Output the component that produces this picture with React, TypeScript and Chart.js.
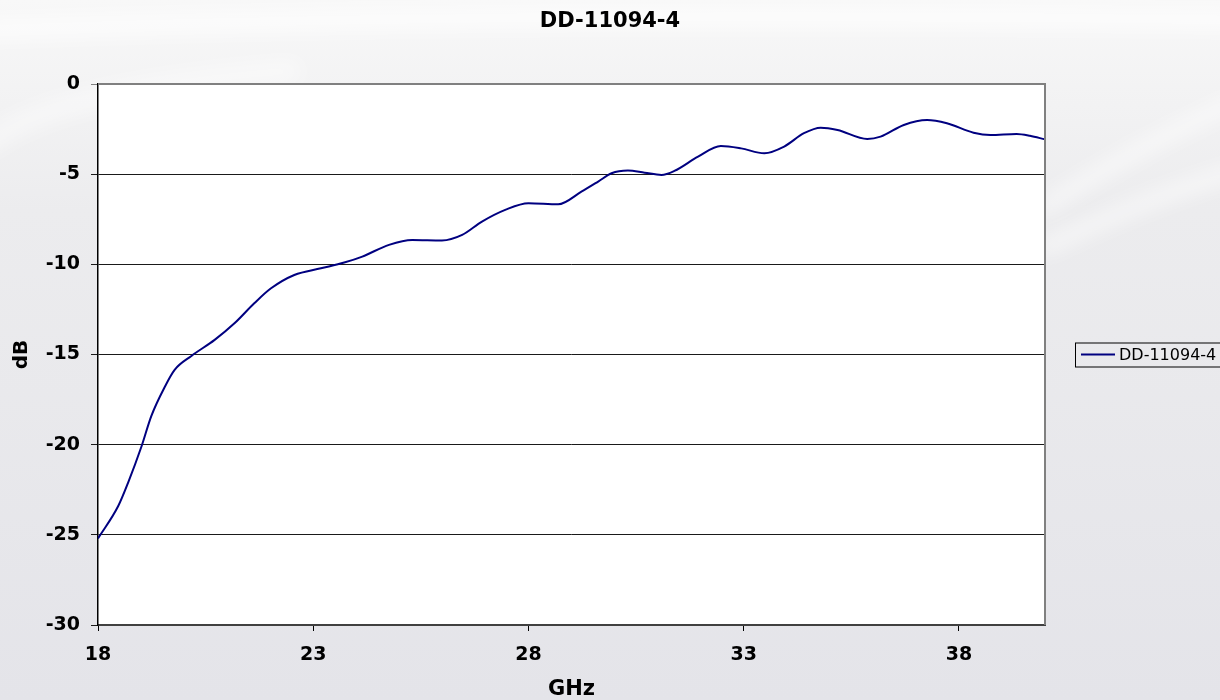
import React, { useEffect, useRef } from "react";
import { Chart, registerables } from "chart.js";

Chart.register(...registerables);

const chartTitle = "DD-11094-4";
const seriesName = "DD-11094-4";
const xAxisTitle = "GHz";
const yAxisTitle = "dB";

const freqGHz = [
  18.0, 18.47, 18.7, 19.01, 19.24, 19.55, 19.78, 20.17, 20.71, 21.17, 21.63, 22.02, 22.56,
  23.18, 23.72, 24.14, 24.76, 25.3, 25.99, 26.46, 26.92, 27.46, 28.0, 28.69, 29.23, 29.62,
  29.93, 30.31, 30.7, 31.09, 31.39, 31.94, 32.47, 32.94, 33.48, 33.94, 34.4, 34.79, 35.18,
  35.87, 36.18, 36.72, 37.26, 37.72, 38.34, 38.73, 39.34, 39.65, 40.0,
];
const lossDb = [
  -25.2, -23.4, -22.1, -20.1, -18.4, -16.8, -15.85, -15.08, -14.19, -13.27, -12.16, -11.33,
  -10.59, -10.22, -9.9, -9.57, -8.92, -8.65, -8.68, -8.37, -7.63, -6.98, -6.61, -6.67, -5.97,
  -5.41, -4.95, -4.8, -4.92, -5.04, -4.82, -4.03, -3.44, -3.57, -3.84, -3.47, -2.73, -2.42,
  -2.55, -3.05, -2.92, -2.27, -2.0, -2.18, -2.7, -2.83, -2.77, -2.87, -3.07,
];
const xTickValues = [18, 23, 28, 33, 38];
const xMin = 18;
const xMax = 40;
const yMin = -30;
const yMax = 0;
const yStep = 5;

const FONT = '"DejaVu Sans", sans-serif';
const LINE_COLOR = "#000080";

const decorPlugin = {
  id: "decor",
  beforeDraw(chart: any) {
    const { ctx, width, height, chartArea: a } = chart;
    ctx.save();
    const g = ctx.createLinearGradient(0, 0, 0, height);
    g.addColorStop(0, "#f8f8f8");
    g.addColorStop(0.3, "#ececee");
    g.addColorStop(1, "#e4e4e9");
    ctx.fillStyle = g;
    ctx.fillRect(0, 0, width, height);
    ctx.filter = "blur(10px)";
    ctx.strokeStyle = "rgba(255,255,255,0.75)";
    ctx.lineWidth = 18;
    ctx.beginPath();
    ctx.moveTo(-20, 30);
    ctx.quadraticCurveTo(500, 10, 1240, 20);
    ctx.stroke();
    ctx.lineWidth = 12;
    ctx.beginPath();
    ctx.moveTo(1040, 210);
    ctx.quadraticCurveTo(1130, 150, 1240, 100);
    ctx.stroke();
    ctx.beginPath();
    ctx.moveTo(1040, 250);
    ctx.quadraticCurveTo(1140, 200, 1240, 170);
    ctx.stroke();
    ctx.strokeStyle = "rgba(255,255,255,0.5)";
    ctx.lineWidth = 20;
    ctx.beginPath();
    ctx.moveTo(-20, 150);
    ctx.quadraticCurveTo(40, 90, 300, 70);
    ctx.stroke();
    ctx.filter = "none";
    ctx.fillStyle = "#ffffff";
    ctx.fillRect(a.left, a.top, a.right - a.left, a.bottom - a.top);
    ctx.restore();
  },
  afterDraw(chart: any) {
    const { ctx, width, chartArea: a } = chart;
    ctx.save();
    ctx.strokeStyle = "#808080";
    ctx.lineWidth = 2;
    ctx.beginPath();
    ctx.moveTo(a.left, a.top);
    ctx.lineTo(a.right, a.top);
    ctx.lineTo(a.right, a.bottom);
    ctx.stroke();

    ctx.fillStyle = "#000";
    ctx.textAlign = "center";
    ctx.textBaseline = "middle";
    ctx.font = `bold 21px ${FONT}`;
    ctx.fillText(chartTitle, width / 2, 22);

    ctx.font = `bold 21px ${FONT}`;
    ctx.fillText(xAxisTitle, (a.left + a.right) / 2, 690);

    ctx.save();
    ctx.translate(22, (a.top + a.bottom) / 2);
    ctx.rotate(-Math.PI / 2);
    ctx.font = `bold 20px ${FONT}`;
    ctx.fillText(yAxisTitle, 0, 0);
    ctx.restore();

    const ly = (a.top + a.bottom) / 2;
    ctx.strokeStyle = "#000";
    ctx.lineWidth = 1;
    ctx.strokeRect(1075.5, ly - 11.5, 160, 24);
    ctx.strokeStyle = LINE_COLOR;
    ctx.lineWidth = 2;
    ctx.beginPath();
    ctx.moveTo(1081, ly);
    ctx.lineTo(1115, ly);
    ctx.stroke();
    ctx.fillStyle = "#000";
    ctx.textAlign = "left";
    ctx.font = `16px ${FONT}`;
    ctx.fillText(seriesName, 1119, ly + 1);
    ctx.restore();
  },
};

export default function App() {
  const ref = useRef<HTMLCanvasElement | null>(null);
  useEffect(() => {
    document.body.style.margin = "0";
    if (!ref.current) return;
    const points = freqGHz.map((f, i) => ({ x: f, y: lossDb[i] }));
    const chart = new Chart(ref.current, {
      type: "line",
      data: {
        datasets: [
          {
            label: seriesName,
            data: points,
            borderColor: LINE_COLOR,
            borderWidth: 2,
            pointRadius: 0,
            fill: false,
            cubicInterpolationMode: "monotone",
          },
        ],
      },
      options: {
        responsive: false,
        animation: false,
        layout: { padding: { top: 84, right: 175, bottom: 0, left: 0 } },
        plugins: {
          legend: { display: false },
          title: { display: false },
          tooltip: { enabled: false },
        },
        scales: {
          x: {
            type: "linear",
            min: xMin,
            max: xMax,
            afterBuildTicks: (axis: any) => {
              axis.ticks = xTickValues.map((v) => ({ value: v }));
            },
            afterFit: (scale: any) => {
              scale.height = 75;
            },
            grid: {
              drawOnChartArea: false,
              drawTicks: true,
              tickLength: 6,
              color: "#000",
            },
            border: { display: true, color: "#404040", width: 2 },
            ticks: {
              autoSkip: false,
              maxRotation: 0,
              padding: 13,
              color: "#000",
              font: { family: FONT, size: 19, weight: "bold" },
            },
          },
          y: {
            type: "linear",
            min: yMin,
            max: yMax,
            afterFit: (scale: any) => {
              scale.width = 98;
            },
            grid: {
              color: (c: any) => (c.tick && c.tick.value === 0 ? "#808080" : "#1a1a1a"),
              lineWidth: 1,
              drawTicks: true,
              tickLength: 7,
            },
            border: { display: true, color: "#000", width: 1.5 },
            ticks: {
              stepSize: yStep,
              padding: 11,
              color: "#000",
              font: { family: FONT, size: 19, weight: "bold" },
            },
          },
        },
      },
      plugins: [decorPlugin],
    });
    return () => chart.destroy();
  }, []);
  return (
    <div style={{ position: "absolute", left: 0, top: 0, width: 1220, height: 700 }}>
      <canvas ref={ref} width={1220} height={700} style={{ display: "block" }} />
    </div>
  );
}
